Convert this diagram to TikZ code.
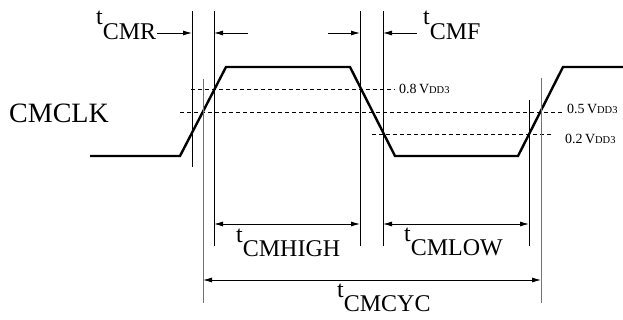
\documentclass[tikz,border=0pt]{standalone}
\usepackage{fontspec}
\setmainfont{Liberation Serif}
\usetikzlibrary{arrows.meta}

\newcommand{\tname}[1]{t\raisebox{-0.62em}{#1}}
\newcommand{\vdd}[1]{#1\,V{\fontsize{10.5}{10.5}\selectfont DD3}}

\begin{document}
\begin{tikzpicture}[x=1pt, y=-1pt,
	wave/.style={line width=2.4pt, line join=miter},
	edge/.style={line width=0.8pt},
	cycedge/.style={line width=0.9pt, black!55},
	level/.style={line width=0.7pt, dash pattern=on 4pt off 3pt},
	dim/.style={line width=0.8pt, {Latex[length=9pt,width=5pt]}-{Latex[length=9pt,width=5pt]}},
	dimin/.style={line width=0.8pt, -{Latex[length=9pt,width=5pt]}},
	tlabel/.style={font=\fontsize{24}{24}\selectfont, inner sep=0pt, anchor=base west},
	vlabel/.style={font=\fontsize{14}{14}\selectfont, inner sep=0pt, anchor=west},
	]
	\useasboundingbox (0,0) rectangle (623,320);

	% waveform
	\coordinate (w0) at (90,156);
	\coordinate (w1) at (180,156);
	\coordinate (w2) at (226,67);
	\coordinate (w3) at (350,67);
	\coordinate (w4) at (395,156);
	\coordinate (w5) at (518,156);
	\coordinate (w6) at (563,67);
	\coordinate (w7) at (623,67);
	\draw[wave] (w0) -- (w1) -- (w2) -- (w3) -- (w4) -- (w5) -- (w6) -- (w7);

	\node[font=\fontsize{28}{28}\selectfont, inner sep=0pt, anchor=base west] (clk) at (9,123) {CMCLK};

	% threshold levels
	\coordinate (h8a) at (191,89);  \coordinate (h8b) at (395,89);
	\coordinate (h5a) at (180,112); \coordinate (h5b) at (563,112);
	\coordinate (h2a) at (372,134); \coordinate (h2b) at (553,134);
	\draw[level] (h8a) -- (h8b);
	\draw[level] (h5a) -- (h5b);
	\draw[level] (h2a) -- (h2b);
	\node[vlabel] (v8) at (399,89) {\vdd{0.8}};
	\node[vlabel] (v5) at (567,109) {\vdd{0.5}};
	\node[vlabel] (v2) at (565,139) {\vdd{0.2}};

	% edge markers
	\coordinate (r2t) at (192,11);  \coordinate (r2b) at (192,167);
	\coordinate (r5t) at (203,79);  \coordinate (r5b) at (203,303);
	\coordinate (r8t) at (214,11);  \coordinate (r8b) at (214,246);
	\coordinate (f8t) at (360,11);  \coordinate (f8b) at (360,246);
	\coordinate (f2t) at (383,11);  \coordinate (f2b) at (383,246);
	\coordinate (s2t) at (529,100); \coordinate (s2b) at (529,246);
	\coordinate (s5t) at (541,78);  \coordinate (s5b) at (541,303);
	\draw[edge] (r2t) -- (r2b);
	\draw[edge] (r8t) -- (r8b);
	\draw[edge] (f8t) -- (f8b);
	\draw[edge] (f2t) -- (f2b);
	\draw[edge] (s2t) -- (s2b);
	\draw[cycedge] (r5t) -- (r5b);
	\draw[cycedge] (s5t) -- (s5b);

	% rise and fall times
	\node[tlabel] (tcmr) at (96,25) {\tname{CMR}};
	\coordinate (cmra) at (157,33); \coordinate (cmrb) at (192,33);
	\coordinate (cmrc) at (248,33); \coordinate (cmrd) at (214,33);
	\draw[dimin] (cmra) -- (cmrb);
	\draw[dimin] (cmrc) -- (cmrd);

	\node[tlabel] (tcmf) at (423,25) {\tname{CMF}};
	\coordinate (cmfa) at (328,33); \coordinate (cmfb) at (360,33);
	\coordinate (cmfc) at (417,33); \coordinate (cmfd) at (383,33);
	\draw[dimin] (cmfa) -- (cmfb);
	\draw[dimin] (cmfc) -- (cmfd);

	% high, low and cycle times
	\coordinate (hia) at (214,224); \coordinate (hib) at (360,224);
	\coordinate (loa) at (383,224); \coordinate (lob) at (529,224);
	\coordinate (cya) at (203,280); \coordinate (cyb) at (541,280);
	\draw[dim] (hia) -- (hib);
	\draw[dim] (loa) -- (lob);
	\draw[dim] (cya) -- (cyb);
	\node[tlabel] (tcmhigh) at (236,242) {\tname{CMHIGH}};
	\node[tlabel] (tcmlow) at (404,241) {\tname{CMLOW}};
	\node[tlabel] (tcmcyc) at (337,297) {\tname{CMCYC}};

\end{tikzpicture}
\end{document}
